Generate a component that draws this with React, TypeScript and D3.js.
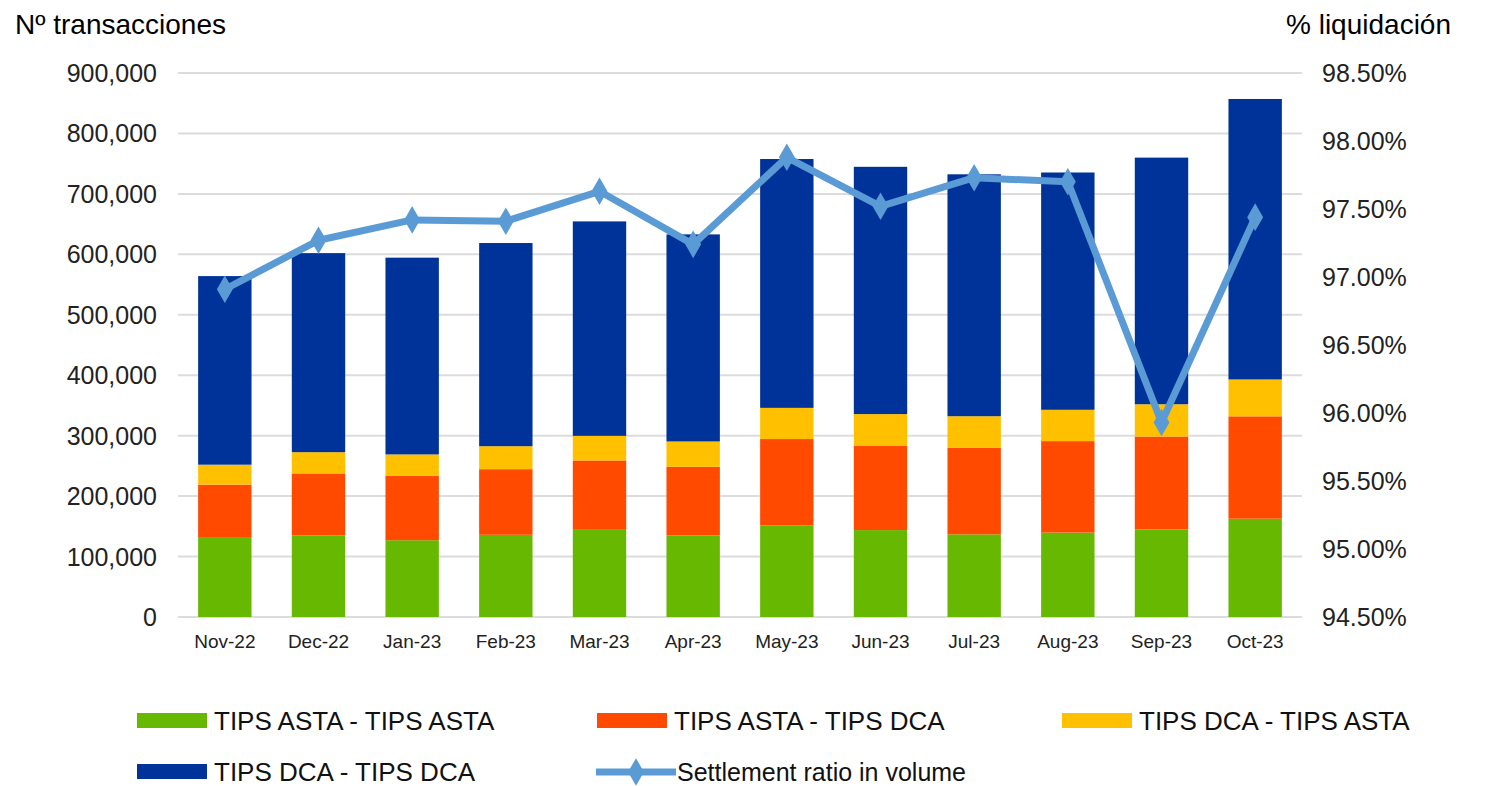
import React, { useRef, useEffect } from 'react';
import * as d3 from 'd3';

const months = ['Nov-22', 'Dec-22', 'Jan-23', 'Feb-23', 'Mar-23', 'Apr-23', 'May-23', 'Jun-23', 'Jul-23', 'Aug-23', 'Sep-23', 'Oct-23'];
const astaAsta = [131000, 135000, 127000, 136000, 145500, 135000, 151400, 143800, 136700, 139700, 145000, 162600];
const astaDca = [88000, 102500, 106600, 108600, 113500, 113500, 143000, 139800, 143500, 151300, 153500, 169400];
const dcaAsta = [33000, 35200, 35400, 38000, 40700, 41900, 51600, 52100, 52000, 51800, 53500, 61000];
const dcaDca = [312000, 329300, 325500, 336100, 354800, 342600, 411700, 409100, 400200, 392600, 408000, 464000];
const settlement = [96.91, 97.27, 97.42, 97.41, 97.63, 97.24, 97.88, 97.52, 97.73, 97.70, 95.93, 97.44];

const leftTicks = [0, 100000, 200000, 300000, 400000, 500000, 600000, 700000, 800000, 900000];
const rightTicks = [94.5, 95, 95.5, 96, 96.5, 97, 97.5, 98, 98.5];

const seriesNames = ['TIPS ASTA - TIPS ASTA', 'TIPS ASTA - TIPS DCA', 'TIPS DCA - TIPS ASTA', 'TIPS DCA - TIPS DCA'];
const lineName = 'Settlement ratio in volume';
const colors = ['#66b800', '#ff4a00', '#ffc000', '#003399'];
const lineColor = '#5b9bd5';

const FONT = '"Liberation Sans", Arial, sans-serif';

const drawChart = (svg: d3.Selection<SVGSVGElement, unknown, null, undefined>): void => {
    const left = 178, right = 1302, top = 73, bottom = 617;

    svg.selectAll('*').remove();

    const x = d3.scaleBand<string>()
        .domain(months)
        .range([left, right])
        .paddingInner(0.43)
        .paddingOuter(0.215);

    const y = d3.scaleLinear().domain([0, 900000]).range([bottom, top]);
    const y2 = d3.scaleLinear().domain([94.5, 98.5]).range([bottom, top]);

    // gridlines
    svg.append('g')
        .selectAll('line')
        .data(leftTicks)
        .enter().append('line')
        .attr('x1', left).attr('x2', right)
        .attr('y1', d => y(d)).attr('y2', d => y(d))
        .attr('stroke', '#dcdcdc')
        .attr('stroke-width', 2);

    // stacked bars
    const rows = months.map((m, i) => ({
        month: m,
        s0: astaAsta[i], s1: astaDca[i], s2: dcaAsta[i], s3: dcaDca[i],
    }));
    const stack = d3.stack<any>().keys(['s0', 's1', 's2', 's3'])(rows);

    svg.append('g')
        .selectAll('g')
        .data(stack)
        .enter().append('g')
        .attr('fill', (_, i) => colors[i])
        .selectAll('rect')
        .data(d => d)
        .enter().append('rect')
        .attr('x', d => x(d.data.month)!)
        .attr('y', d => y(d[1]))
        .attr('width', x.bandwidth())
        .attr('height', d => y(d[0]) - y(d[1]));

    // left axis labels
    svg.append('g')
        .selectAll('text')
        .data(leftTicks)
        .enter().append('text')
        .attr('x', 157)
        .attr('y', d => y(d))
        .attr('dy', '0.36em')
        .attr('text-anchor', 'end')
        .attr('font-size', 25)
        .attr('fill', '#222')
        .text(d => d3.format(',')(d));

    // right axis labels
    svg.append('g')
        .selectAll('text')
        .data(rightTicks)
        .enter().append('text')
        .attr('x', 1322)
        .attr('y', d => y2(d))
        .attr('dy', '0.36em')
        .attr('font-size', 25)
        .attr('fill', '#222')
        .text(d => d.toFixed(2) + '%');

    // x labels
    svg.append('g')
        .selectAll('text')
        .data(months)
        .enter().append('text')
        .attr('x', d => x(d)! + x.bandwidth() / 2)
        .attr('y', 648)
        .attr('text-anchor', 'middle')
        .attr('font-size', 19)
        .attr('fill', '#222')
        .text(d => d);

    // axis titles
    svg.append('text').attr('x', 15).attr('y', 34)
        .attr('font-size', 28).attr('fill', '#000').text('Nº transacciones');
    svg.append('text').attr('x', 1451).attr('y', 34).attr('text-anchor', 'end')
        .attr('font-size', 28).attr('fill', '#000').text('% liquidación');

    // settlement line
    const cx = (i: number) => x(months[i])! + x.bandwidth() / 2;
    const line = d3.line<number>()
        .x((_, i) => cx(i))
        .y(d => y2(d));

    svg.append('path')
        .datum(settlement)
        .attr('d', line)
        .attr('fill', 'none')
        .attr('stroke', lineColor)
        .attr('stroke-width', 7)
        .attr('stroke-linejoin', 'round');

    const diamond = d3.symbol().type(d3.symbolDiamond).size(220);
    svg.append('g')
        .selectAll('path')
        .data(settlement)
        .enter().append('path')
        .attr('d', diamond)
        .attr('transform', (d, i) => `translate(${cx(i)},${y2(d)})`)
        .attr('fill', lineColor);

    // legend
    const row1 = 721, row2 = 772;
    const legendItems = [
        { x: 137, y: row1, i: 0 },
        { x: 597, y: row1, i: 1 },
        { x: 1062, y: row1, i: 2 },
        { x: 137, y: row2, i: 3 },
    ];
    const lg = svg.append('g');
    legendItems.forEach(it => {
        lg.append('rect')
            .attr('x', it.x).attr('y', it.y - 8)
            .attr('width', 70).attr('height', 15)
            .attr('fill', colors[it.i]);
        lg.append('text')
            .attr('x', it.x + 77).attr('y', it.y)
            .attr('dy', '0.35em')
            .attr('font-size', 26)
            .attr('fill', '#111')
            .text(seriesNames[it.i]);
    });
    lg.append('line')
        .attr('x1', 596).attr('x2', 676)
        .attr('y1', row2).attr('y2', row2)
        .attr('stroke', lineColor).attr('stroke-width', 7);
    lg.append('path')
        .attr('d', diamond)
        .attr('transform', `translate(636,${row2})`)
        .attr('fill', lineColor);
    lg.append('text')
        .attr('x', 677).attr('y', row2)
        .attr('dy', '0.35em')
        .attr('font-size', 25)
        .attr('fill', '#111')
        .text(lineName);
};

const App: React.FC = () => {
    const ref = useRef<SVGSVGElement>(null);

    useEffect(() => {
        if (ref.current) {
            drawChart(d3.select(ref.current));
        }
    }, []);

    return (
        <svg
            ref={ref}
            width={1496}
            height={786}
            style={{ position: 'absolute', left: 0, top: 0, fontFamily: FONT, background: '#fff' }}
        />
    );
};

export default App;
